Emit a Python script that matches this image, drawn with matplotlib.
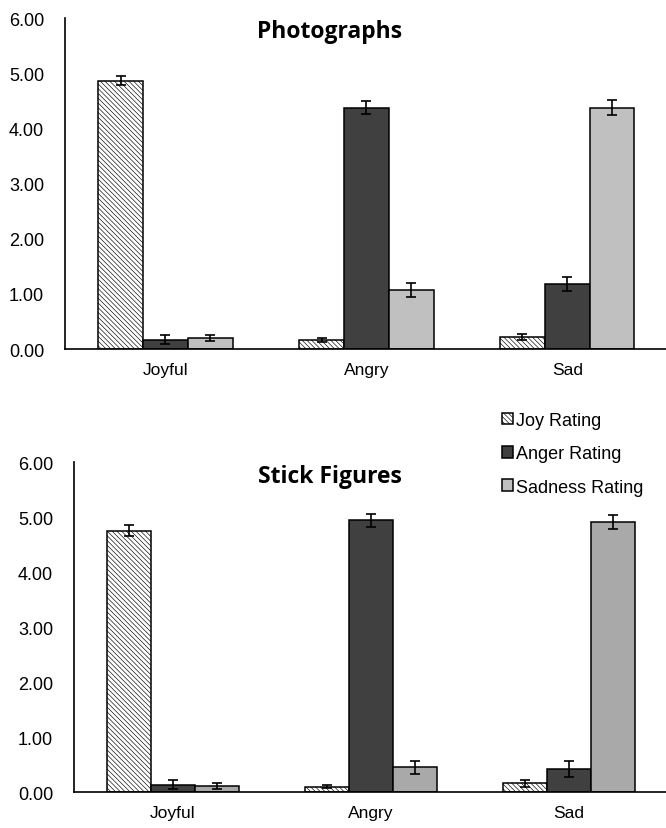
import matplotlib.pyplot as plt
import numpy as np

plt.rcParams['font.family'] = ['Liberation Sans', 'DejaVu Sans']
plt.rcParams['hatch.color'] = '#b4b4b4'
plt.rcParams['hatch.linewidth'] = 0.45

categories = ["Joyful", "Angry", "Sad"]
series = ["Joy Rating", "Anger Rating", "Sadness Rating"]

# Photographs: rows = series, cols = categories
photo_means = [[4.87, 0.16, 0.22],
               [0.17, 4.38, 1.18],
               [0.20, 1.07, 4.38]]
photo_err = [[0.09, 0.04, 0.05],
             [0.08, 0.12, 0.12],
             [0.05, 0.12, 0.13]]

# Stick figures
stick_means = [[4.75, 0.10, 0.16],
               [0.13, 4.94, 0.42],
               [0.11, 0.45, 4.91]]
stick_err = [[0.10, 0.03, 0.06],
             [0.08, 0.12, 0.14],
             [0.05, 0.12, 0.13]]

fig = plt.figure(figsize=(6.66, 8.29), dpi=100)


def draw(ax, means, errs, title, title_y, sad_color):
    x = np.arange(len(categories))
    w = 0.223
    styles = [dict(color='white', hatch='\\' * 7),
              dict(color='#404040'),
              dict(color=sad_color)]
    bars = []
    for i, name in enumerate(series):
        b = ax.bar(x + (i - 1) * w, means[i], w, yerr=errs[i], label=name,
                   edgecolor='black', linewidth=1.1, capsize=3.5,
                   error_kw=dict(elinewidth=1.2, capthick=1.2, ecolor='black'),
                   **styles[i])
        bars.append(b)
    ax.set_xlim(-0.5, 2.5)
    ax.set_ylim(0, 6)
    ax.set_yticks(np.arange(0, 7, 1))
    ax.set_yticklabels([f"{v:.2f}" for v in range(7)], fontsize=13)
    ax.set_xticks(x)
    ax.set_xticklabels(categories, fontsize=12.5)
    ax.tick_params(length=0, pad=9)
    ax.tick_params(axis='y', pad=15)
    for s in ['top', 'right']:
        ax.spines[s].set_visible(False)
    ax.spines['left'].set_linewidth(1.2)
    ax.spines['bottom'].set_linewidth(1.2)
    fig.text(0.495, title_y, title, ha='center', va='center',
             fontsize=16.5, fontweight='bold', family=['Open Sans', 'DejaVu Sans'])
    return bars


ax1 = fig.add_axes([0.0976, 0.5778, 0.905, 0.399])
bars = draw(ax1, photo_means, photo_err, "Photographs", 1 - 32 / 829, '#c0c0c0')

ax2 = fig.add_axes([0.111, 0.0434, 0.892, 0.398])
draw(ax2, stick_means, stick_err, "Stick Figures", 1 - 477 / 829, '#a9a9a9')

fig.legend(handles=bars, labels=series, loc='upper left',
           bbox_to_anchor=(0.74, 1 - 404 / 829), frameon=False, fontsize=13,
           handlelength=0.6, handleheight=0.6, handletextpad=0.2,
           labelspacing=0.9, borderpad=0)

fig.savefig("out.png", dpi=100)
